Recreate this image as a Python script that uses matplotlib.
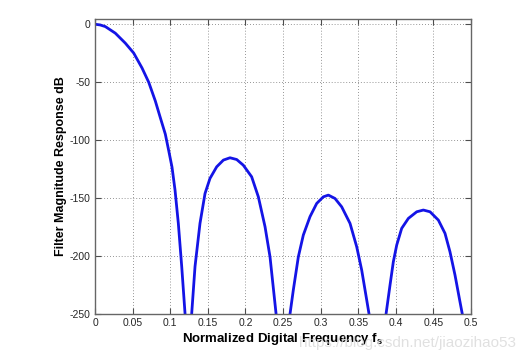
import numpy as np
import matplotlib.pyplot as plt

plt.rcParams['font.family'] = ['Liberation Sans', 'DejaVu Sans']
plt.rcParams['mathtext.fontset'] = 'custom'
plt.rcParams['mathtext.bf'] = 'Liberation Sans:bold'
plt.rcParams['mathtext.rm'] = 'Liberation Sans'
plt.rcParams['axes.unicode_minus'] = False

# values (normalized frequency, dB)
# points below -250 are the nulls, clipped by the axes
freq = [0.0, 0.0068, 0.0137, 0.027, 0.0403, 0.0514, 0.0625, 0.0714, 0.0802, 0.0868,
        0.0935, 0.098, 0.1024, 0.1064, 0.1108, 0.1153, 0.1197, 0.125,
        0.1286, 0.133, 0.1396, 0.1463, 0.1529, 0.1618, 0.1707, 0.1795, 0.1884,
        0.1972, 0.2083, 0.2172, 0.2261, 0.2327, 0.2407, 0.25,
        0.2593, 0.2637, 0.2704, 0.277, 0.2859, 0.2948, 0.3036, 0.3103, 0.3191,
        0.328, 0.3391, 0.348, 0.3546, 0.3613, 0.3644, 0.375,
        0.387, 0.3923, 0.3967, 0.4012, 0.4078, 0.4167, 0.4278, 0.4366, 0.4455,
        0.4566, 0.4654, 0.472, 0.4787, 0.4853, 0.4884, 0.5]
mag_db = [0.0, -0.6, -2.0, -7.7, -16.3, -24.8, -37.7, -50.0, -66.2, -80.5,
          -94.8, -109.0, -123.3, -143.0, -171.8, -209.0, -249.4, -320.0,
          -249.4, -209.0, -171.8, -146.0, -133.0, -123.0, -117.2, -115.2, -116.7,
          -121.6, -131.6, -148.9, -174.7, -200.6, -249.4, -320.0,
          -250.0, -229.3, -200.6, -181.9, -166.0, -154.6, -148.9, -147.4, -150.3,
          -157.5, -171.8, -192.0, -212.0, -237.9, -250.0, -320.0,
          -250.0, -225.0, -204.9, -190.5, -176.1, -167.5, -161.8, -160.3, -161.8,
          -169.0, -180.4, -196.3, -216.4, -239.4, -250.0, -320.0]

xticks = np.arange(0, 0.501, 0.05)
xticklabels = ['0', '0.05', '0.1', '0.15', '0.2', '0.25', '0.3', '0.35', '0.4', '0.45', '0.5']
yticks = [-250, -200, -150, -100, -50, 0]

fig = plt.figure(figsize=(5.24, 3.59), dpi=100)
ax = fig.add_axes([0.1813, 0.1253, 0.7176, 0.8217])

ax.plot(freq, mag_db, color='#1414e6', lw=2.0)

ax.set_xlim(0, 0.5)
ax.set_ylim(-250, 4.5)
ax.set_xticks(xticks)
ax.set_xticklabels(xticklabels)
ax.set_yticks(yticks)
ax.tick_params(direction='in', length=4, width=0.8, labelsize=7.5,
               top=True, right=True, colors='0.3', labelcolor='0.15', pad=3)
for s in ax.spines.values():
    s.set_color('0.4')
    s.set_linewidth(1.0)
ax.grid(True, color='0.45', linestyle=(0, (1, 2.5)), linewidth=0.6)

ax.set_xlabel(r'Normalized Digital Frequency f$_{\bf s}$', fontsize=9.5,
              fontweight='bold', labelpad=2)
ax.set_ylabel('Filter Magnitude Response dB', fontsize=9, fontweight='bold', labelpad=2)

fig.text(0.985, 0.045, 'https://blog.csdn.net/jiaozihao53', ha='right', va='center',
         fontsize=11, color='0.85', alpha=0.8, zorder=0)

fig.savefig('out.png', dpi=100)
